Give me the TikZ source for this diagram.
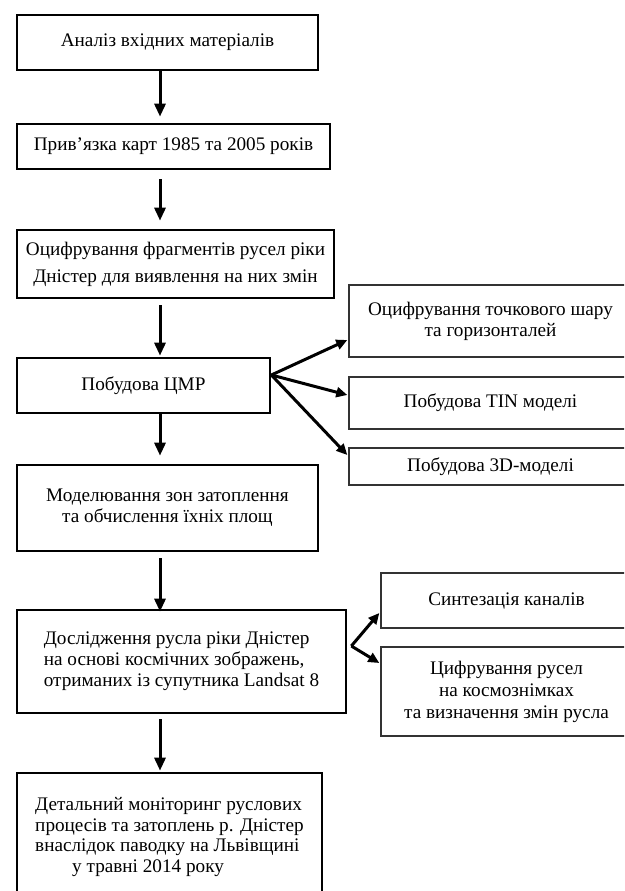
\documentclass[tikz,border=0pt]{standalone}
\usepackage{fontspec}
\setmainfont{Liberation Serif}
\usetikzlibrary{arrows.meta,calc}
\begin{document}
\begin{tikzpicture}[x=1pt,y=-1pt,
  txt/.style={font=\fontsize{19.2}{20.8}\selectfont, align=center, inner sep=0pt},
  mainbox/.style={txt, draw=black, line width=2.7pt, rectangle},
  sidebox/.style={txt, draw=black!80, line width=1.4pt, rectangle},
  mainarrow/.style={line width=3pt, -{Triangle[length=13pt,width=11pt]}},
  fanarrow/.style={line width=3pt, -{Triangle[length=11pt,width=10pt]}}]
\clip (0,0) rectangle (624,891);
\fill[white] (0,0) rectangle (624,891);
% main column
\node[mainbox, minimum width=301pt, minimum height=55pt] (b1) at (167.5,42.5) {Аналіз вхідних матеріалів};
\node[mainbox, minimum width=313pt, minimum height=45pt] (b2) at (173.5,146.5) {Прив’язка карт 1985 та 2005 років};
\node[mainbox, minimum width=317pt, minimum height=68pt, font=\fontsize{19.2}{27}\selectfont] (b3) at (175.5,264) {Оцифрування фрагментів русел ріки\\Дністер для виявлення на них змін};
\node[mainbox, minimum width=253pt, minimum height=55pt] (b4) at (143.5,385.5) {Побудова ЦМР};
\node[mainbox, minimum width=301pt, minimum height=86pt] (b5) at (167.5,508) {Моделювання зон затоплення\\та обчислення їхніх площ};
\node[mainbox, minimum width=329pt, minimum height=103pt, align=left] (b6) at (181.5,661.5) {Дослідження русла ріки Дністер\\на основі космічних зображень,\\отриманих із супутника Landsat 8};
\node[mainbox, minimum width=305pt, minimum height=128pt, align=left] (b7) at (169.5,837) {Детальний моніторинг руслових\\процесів та затоплень р. Дністер\\внаслідок паводку на Львівщині\\\hspace*{37pt}у травні 2014 року};
% side boxes
\node[sidebox, minimum width=283pt, minimum height=72pt] (rA) at (490.5,321) {Оцифрування точкового шару\\та горизонталей};
\node[sidebox, minimum width=283pt, minimum height=52pt] (rB) at (490.5,403) {Побудова TIN моделі};
\node[sidebox, minimum width=283pt, minimum height=37pt] (rC) at (490.5,466.5) {Побудова 3D-моделі};
\node[sidebox, minimum width=251pt, minimum height=55pt] (rD) at (506.5,600.5) {Синтезація каналів};
\node[sidebox, minimum width=251pt, minimum height=89pt, font=\fontsize{19.2}{22}\selectfont] (rE) at (506.5,691.5) {Цифрування русел\\на космознімках\\та визначення змін русла};
% arrows of the main column
\coordinate (ax) at (160,0);
\draw[mainarrow, shorten >=6pt] (b1.south -| ax) -- (b2.north -| ax);
\draw[mainarrow, shorten <=9pt, shorten >=8pt] (b2.south -| ax) -- (b3.north -| ax);
\draw[mainarrow, shorten <=6pt, shorten >=1pt] (b3.south -| ax) -- (b4.north -| ax);
\draw[mainarrow, shorten >=8pt] (b4.south -| ax) -- (b5.north -| ax);
\draw[mainarrow, shorten <=6pt, shorten >=-3pt] (b5.south -| ax) -- (b6.north -| ax);
\draw[mainarrow, shorten <=5pt, shorten >=1pt] (b6.south -| ax) -- (b7.north -| ax);
% fan arrows
\draw[fanarrow] ([yshift=10.5pt]b4.east) -- ([xshift=-1pt,yshift=-19pt]rA.west);
\draw[fanarrow] ([yshift=10.5pt]b4.east) -- ([xshift=-1pt,yshift=8pt]rB.west);
\draw[fanarrow] ([yshift=10.5pt]b4.east) -- ([xshift=-1pt,yshift=11.5pt]rC.west);
\draw[fanarrow] ([xshift=4pt,yshift=15.5pt]b6.east) -- ([xshift=-1pt,yshift=-12.5pt]rD.west);
\draw[fanarrow] ([xshift=4pt,yshift=15.5pt]b6.east) -- ([xshift=-1pt,yshift=28.5pt]rE.west);
\end{tikzpicture}
\end{document}
